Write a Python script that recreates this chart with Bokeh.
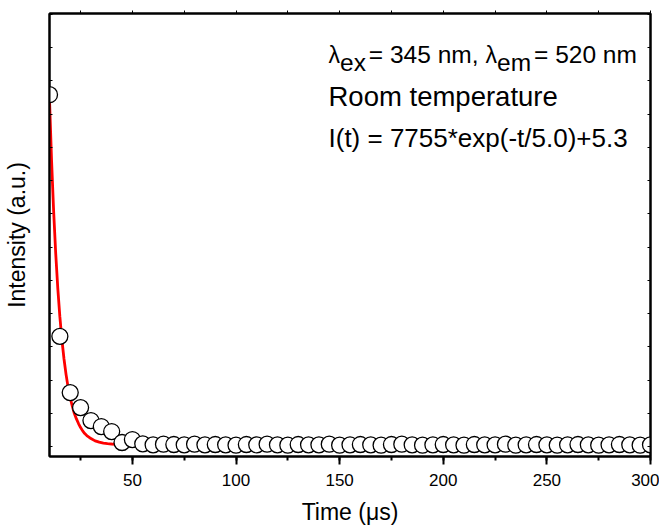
from bokeh.plotting import figure
from bokeh.models import (Range1d, LinearAxis, SingleIntervalTicker, CustomJSTickFormatter, Label)
from bokeh.embed import file_html
from bokeh.resources import INLINE

# ---- data ----
time_us = list(range(10, 301, 5))
intensity = [1058, 332, 163, 118, 79, 61, 46, 13, 22, 9,
             6, 8, 7, 6, 8, 6, 7, 6, 5, 7,
             6, 8, 6, 5, 7, 6, 6, 8, 5, 6,
             7, 6, 5, 7, 8, 6, 5, 6, 7, 6,
             5, 7, 6, 6, 8, 5, 6, 7, 6, 5,
             6, 7, 6, 5, 6, 7, 6, 5, 6]
fit_t = [10, 11, 12, 13, 14, 15, 16, 17, 18, 19, 20, 21, 22, 23, 24, 25, 26, 27, 28,
         30, 32, 34, 36, 38, 40, 45, 50, 60, 80, 100, 150, 200, 250, 300]
fit_v = [1044, 860, 708, 581, 476, 391, 321, 264, 217, 178, 147, 122, 100, 84, 70, 58, 48, 40, 34,
         25, 18, 14, 11, 9.5, 8.5, 7, 6.2, 5.6, 5.4, 5.3, 5.3, 5.3, 5.3, 5.3]
assert len(time_us) == len(intensity)

x_tick_labels = ["50", "100", "150", "200", "250", "300"]
annot_line2 = "Room temperature"
annot_line3 = "I(t) = 7755*exp(-t/5.0)+5.3"

FONT = "Liberation Sans"
X0, X1 = 10, 300
Y0, Y1 = -29, 1302
FW, FH = 601, 443
BL, BT = 47, 13

p = figure(frame_width=FW, frame_height=FH, x_range=Range1d(X0, X1), y_range=Range1d(Y0, Y1),
           output_backend="svg", toolbar_location=None,
           min_border_left=BL, min_border_right=9, min_border_top=BT, min_border_bottom=10)
p.background_fill_color = "white"
p.border_fill_color = "white"
p.xgrid.visible = False
p.ygrid.visible = False
p.outline_line_color = "black"
p.outline_line_width = 2

empty = CustomJSTickFormatter(code="return ''")

# bottom axis
xa = p.xaxis[0]
xa.ticker = SingleIntervalTicker(interval=50, num_minor_ticks=2)
xa.major_label_overrides = {50 * (i + 1): s for i, s in enumerate(x_tick_labels)}
xa.axis_label = "Time (\u03bcs)"
xa.axis_label_text_font = FONT
xa.axis_label_text_font_style = "normal"
xa.axis_label_text_font_size = "23px"
xa.axis_label_text_color = "black"
xa.axis_label_standoff = 10
xa.major_label_text_font = FONT
xa.major_label_text_font_size = "17px"
xa.major_label_text_color = "black"
xa.major_label_standoff = 9
xa.axis_line_width = 2
xa.major_tick_out = 8
xa.major_tick_in = 0
xa.minor_tick_out = 4
xa.minor_tick_in = 0
xa.major_tick_line_width = 2
xa.minor_tick_line_width = 2

# left axis
ya = p.yaxis[0]
ya.ticker = SingleIntervalTicker(interval=100, num_minor_ticks=0)
ya.formatter = empty
ya.major_label_text_font_size = "1px"
ya.major_label_standoff = 0
ya.axis_label = "Intensity (a.u.)"
ya.axis_label_text_font = FONT
ya.axis_label_text_font_style = "normal"
ya.axis_label_text_font_size = "23px"
ya.axis_label_text_color = "black"
ya.axis_label_standoff = 20
ya.axis_line_width = 2
ya.major_tick_in = 3
ya.major_tick_out = 0
ya.major_tick_line_width = 1

# right axis
ra = LinearAxis(ticker=SingleIntervalTicker(interval=100, num_minor_ticks=0), formatter=empty,
                major_label_text_font_size="1px", major_label_standoff=0,
                major_tick_in=3, major_tick_out=0, axis_line_width=2, major_tick_line_width=1)
p.add_layout(ra, "right")

# top axis
ta = LinearAxis(ticker=SingleIntervalTicker(interval=25, num_minor_ticks=0), formatter=empty,
                major_label_text_font_size="1px", major_label_standoff=0,
                major_tick_in=0, major_tick_out=3, axis_line_width=2, major_tick_line_width=1)
p.add_layout(ta, "above")

# data
p.line(fit_t, fit_v, line_color="red", line_width=2.8)
p.scatter(time_us, intensity, size=16, marker="circle", fill_color="white",
          line_color="black", line_width=1.3)

# ---- annotations placed in page pixels ----
def dx(px):
    return X0 + (px - BL) * (X1 - X0) / FW

def dy(py):
    return Y1 - (py - BT) * (Y1 - Y0) / FH

W = {' ': .278, '=': .584, 'n': .556, 'm': .833, ',': .278, 'e': .556, 'x': .5, '\u03bb': .5}
for d in "0123456789":
    W[d] = .556

def width(s, fs):
    return sum(W[c] for c in s) * fs

F = 24.5
LF = 23
def put(text, px, py, fs):
    p.add_layout(Label(x=dx(px), y=dy(py), text=text, text_font=FONT, text_font_size=f"{fs}px",
                       text_align="left", text_baseline="alphabetic", text_color="black"))

xstart = 326
base1 = 54
sub1 = 62
# (text, baseline, font size, gap before in px)
pieces = [("\u03bb", base1, LF, 0), ("ex", sub1, F, 0), ("= 345 nm,", base1, F, 3),
          ("\u03bb", base1, LF, 7), ("em", sub1, F, 0), ("= 520 nm", base1, F, 3)]
cx = xstart
for txt, by, fs, gap in pieces:
    cx += gap
    put(txt, cx, by, fs)
    cx += width(txt, fs)

put(annot_line2, xstart, 96, 27.5)
put(annot_line3, xstart, 137, 26)

open("out.html", "w").write(file_html(p, INLINE))
